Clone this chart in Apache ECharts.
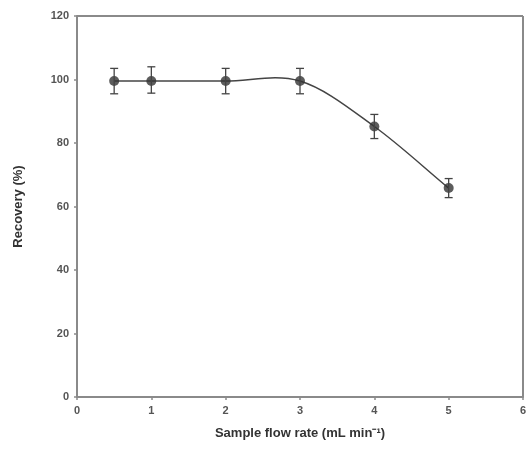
<!DOCTYPE html>
<html><head><meta charset="utf-8">
<script src="https://cdn.jsdelivr.net/npm/echarts@6/dist/echarts.min.js"></script>
<style>html,body{margin:0;padding:0;background:#fff}#c{width:531px;height:452px}</style>
</head><body><div id="c"></div>
<script>
const flowRates = [0.5, 1, 2, 3, 4, 5];
const recovery = [99.5, 99.5, 99.5, 99.5, 85.2, 65.8];
const errLow = [4.0, 3.8, 4.0, 4.0, 3.8, 3.0];
const errHigh = [4.0, 4.5, 4.0, 4.0, 3.8, 3.0];
const xTicks = [0, 1, 2, 3, 4, 5, 6];
const yTicks = [0, 20, 40, 60, 80, 100, 120];

const pts = flowRates.map((x, i) => [x, recovery[i]]);
const errData = flowRates.map((x, i) => [x, recovery[i] - errLow[i], recovery[i] + errHigh[i]]);
const n = flowRates.length;
// finite-difference slopes for a smooth (cubic Hermite) curve through the data
const slopes = flowRates.map((x, i) => {
  const a = Math.max(0, i - 1), b = Math.min(n - 1, i + 1);
  return (recovery[b] - recovery[a]) / (flowRates[b] - flowRates[a]);
});
const segData = flowRates.slice(0, n - 1).map((x, i) => [x, recovery[i], i]);

const chart = echarts.init(document.getElementById('c'));
const axisCol = '#8a8a8a';
const txtCol = '#555';
chart.setOption({
  animation: false,
  grid: { left: 77, right: 8, top: 16, bottom: 55 },
  xAxis: {
    type: 'value', min: xTicks[0], max: xTicks[xTicks.length - 1], interval: 1,
    name: 'Sample flow rate (mL min\u207B\u00B9)', nameLocation: 'middle', nameGap: 30,
    nameTextStyle: { fontFamily: 'Liberation Sans', fontWeight: 'bold', fontSize: 13, color: '#333' },
    axisLine: { show: true, lineStyle: { color: axisCol, width: 2 } },
    axisTick: { show: true, inside: false, length: 3, lineStyle: { color: axisCol, width: 1.5 } },
    axisLabel: { fontFamily: 'Liberation Sans', fontWeight: 'bold', fontSize: 11, color: txtCol, margin: 8 },
    splitLine: { show: false }
  },
  yAxis: {
    type: 'value', min: yTicks[0], max: yTicks[yTicks.length - 1], interval: 20,
    name: 'Recovery (%)', nameLocation: 'middle', nameGap: 52,
    nameTextStyle: { fontFamily: 'Liberation Sans', fontWeight: 'bold', fontSize: 13, color: '#333' },
    axisLine: { show: true, lineStyle: { color: axisCol, width: 2 } },
    axisTick: { show: true, inside: false, length: 3, lineStyle: { color: axisCol, width: 1.5 } },
    axisLabel: { fontFamily: 'Liberation Sans', fontWeight: 'bold', fontSize: 11, color: txtCol, margin: 8 },
    splitLine: { show: false }
  },
  series: [
    {
      type: 'custom', data: segData, z: 2,
      renderItem: function (params, api) {
        const i = api.value(2);
        const x0 = flowRates[i], y0 = recovery[i];
        const x1 = flowRates[i + 1], y1 = recovery[i + 1];
        const h = x1 - x0;
        const p0 = api.coord([x0, y0]);
        const p1 = api.coord([x1, y1]);
        const c0 = api.coord([x0 + h / 3, y0 + slopes[i] * h / 3]);
        const c1 = api.coord([x1 - h / 3, y1 - slopes[i + 1] * h / 3]);
        return {
          type: 'bezierCurve',
          shape: { x1: p0[0], y1: p0[1], x2: p1[0], y2: p1[1], cpx1: c0[0], cpy1: c0[1], cpx2: c1[0], cpy2: c1[1] },
          style: { stroke: '#444', lineWidth: 1.5, fill: null }
        };
      }
    },
    {
      type: 'scatter', data: pts,
      symbol: 'circle', symbolSize: 10,
      itemStyle: { color: '#333' },
      z: 3
    },
    {
      type: 'custom', data: errData, z: 4,
      renderItem: function (params, api) {
        const x = api.value(0);
        const lo = api.coord([x, api.value(1)]);
        const hi = api.coord([x, api.value(2)]);
        const hw = 4;
        const st = { stroke: '#444', lineWidth: 1.3 };
        return { type: 'group', children: [
          { type: 'line', shape: { x1: lo[0], y1: lo[1], x2: hi[0], y2: hi[1] }, style: st },
          { type: 'line', shape: { x1: lo[0] - hw, y1: lo[1], x2: lo[0] + hw, y2: lo[1] }, style: st },
          { type: 'line', shape: { x1: hi[0] - hw, y1: hi[1], x2: hi[0] + hw, y2: hi[1] }, style: st }
        ]};
      }
    }
  ],
  graphic: [
    { type: 'line', shape: { x1: 77, y1: 16, x2: 523, y2: 16 }, style: { stroke: axisCol, lineWidth: 2 } },
    { type: 'line', shape: { x1: 523, y1: 16, x2: 523, y2: 397 }, style: { stroke: axisCol, lineWidth: 2 } }
  ]
});
</script></body></html>
